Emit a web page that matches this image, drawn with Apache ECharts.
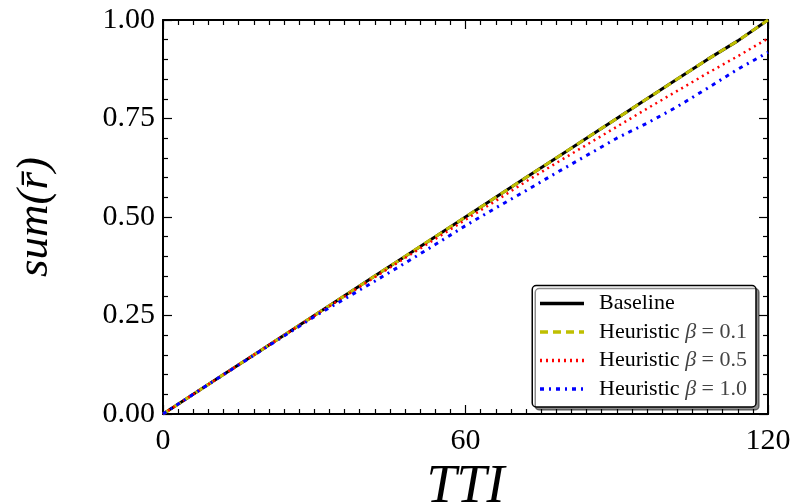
<!DOCTYPE html>
<html>
<head>
<meta charset="utf-8">
<script src="https://cdn.jsdelivr.net/npm/echarts@6/dist/echarts.min.js"></script>
<style>html,body{margin:0;padding:0;background:#fff}#c{width:791px;height:502px}</style>
</head>
<body>
<div id="c"></div>
<script>
const tti = [0,6,12,18,24,30,36,42,48,54,60,66,72,78,84,90,96,102,108,114,120];
const baseline = [0,0.05,0.1,0.15,0.2,0.25,0.3,0.35,0.4,0.45,0.5,0.55,0.6,0.65,0.7,0.75,0.8,0.85,0.9,0.947,1.0];
const heurB01 = [0,0.05,0.1,0.15,0.2,0.25,0.3,0.35,0.4,0.45,0.5,0.55,0.6,0.65,0.7,0.75,0.8,0.85,0.9,0.947,1.0];
const heurB05 = [0,0.05,0.1,0.15,0.2,0.249,0.298,0.347,0.396,0.444,0.493,0.541,0.59,0.637,0.683,0.729,0.775,0.82,0.865,0.908,0.953];
const heurB10 = [0,0.05,0.1,0.149,0.198,0.247,0.292,0.337,0.383,0.43,0.478,0.523,0.567,0.612,0.656,0.70,0.738,0.78,0.827,0.875,0.918];
const seriesNames = ['Baseline','Heuristic β = 0.1','Heuristic β = 0.5','Heuristic β = 1.0'];
const xTicks = [0,60,120];
const yTicks = [0,0.25,0.5,0.75,1.0];

const FONT = '"Liberation Serif", "DejaVu Serif", serif';
const pair = arr => tti.map((t,i)=>[t,arr[i]]);

const chart = echarts.init(document.getElementById('c'), null, {renderer:'canvas'});
const axisLine = {show:true, onZero:false, lineStyle:{color:'#000', width:2}};
const tick = {show:true, inside:true, length:9, lineStyle:{color:'#000', width:1.2}};
const option = {
  animation:false,
  backgroundColor:'#fff',
  grid:{left:163, right:23, top:20, bottom:88, containLabel:false, outerBoundsMode:'none'},
  xAxis:[
    {
      type:'value', min:xTicks[0], max:xTicks[xTicks.length-1], interval:60, position:'bottom',
      axisLine:axisLine, splitLine:{show:false}, axisTick:tick,
      minorTick:{show:true, splitNumber:20, length:5, lineStyle:{color:'#000', width:1.2}},
      axisLabel:{show:true, margin:12, color:'#000', fontFamily:FONT, fontSize:30},
      name:'TTI', nameLocation:'middle', nameGap:44,
      nameTextStyle:{fontFamily:FONT, fontStyle:'italic', fontSize:54, color:'#000'}
    },
    {
      type:'value', min:0, max:120, interval:60, position:'top',
      axisLine:axisLine, splitLine:{show:false}, axisTick:tick,
      minorTick:{show:true, splitNumber:20, length:5, lineStyle:{color:'#000', width:1.2}},
      axisLabel:{show:false}
    }
  ],
  yAxis:[
    {
      type:'value', min:yTicks[0], max:yTicks[yTicks.length-1], interval:0.25, position:'left',
      axisLine:axisLine, splitLine:{show:false}, axisTick:tick,
      minorTick:{show:true, splitNumber:5, length:5, lineStyle:{color:'#000', width:1.2}},
      axisLabel:{show:true, margin:8, color:'#000', fontFamily:FONT, fontSize:30,
        formatter:v=>v.toFixed(2)},
      name:'sum(r\u0304)', nameLocation:'middle', nameGap:105,
      nameTextStyle:{fontFamily:FONT, fontStyle:'italic', fontSize:45, color:'#000'}
    },
    {
      type:'value', min:0, max:1, interval:0.25, position:'right',
      axisLine:axisLine, splitLine:{show:false}, axisTick:tick,
      minorTick:{show:true, splitNumber:5, length:5, lineStyle:{color:'#000', width:1.2}},
      axisLabel:{show:false}
    }
  ],
  legend:{
    orient:'vertical', right:35, bottom:95,
    data:seriesNames,
    itemWidth:44, itemHeight:14, itemGap:6.5,
    padding:[7,9,7,6],
    itemStyle:{opacity:0},
    lineStyle:{width:3.5},
    backgroundColor:'#fff', borderColor:'#000', borderWidth:1.5, borderRadius:4,
    shadowColor:'rgba(0,0,0,0.45)', shadowBlur:0, shadowOffsetX:3, shadowOffsetY:3,
    formatter:function(name){
      const idx = name.indexOf('β');
      if(idx<0) return '{n|'+name+'}';
      return '{n|'+name.slice(0,idx)+'}{m|β}{k|'+name.slice(idx+1)+'}';
    },
    textStyle:{fontFamily:FONT, fontSize:22, color:'#000', lineHeight:20, padding:[0,0,0,10],
      rich:{
        n:{fontFamily:FONT, fontSize:22, color:'#000', lineHeight:20},
        m:{fontFamily:FONT, fontSize:22, color:'#444', fontStyle:'italic', lineHeight:20},
        k:{fontFamily:FONT, fontSize:22, color:'#444', lineHeight:20}
      }}
  },
  series:[
    {name:seriesNames[0], type:'line', data:pair(baseline), symbol:'none', z:2,
      lineStyle:{color:'#000', width:3, type:'solid'}, itemStyle:{color:'#000'}},
    {name:seriesNames[1], type:'line', data:pair(heurB01), symbol:'none', z:3,
      lineStyle:{color:'#bfbf00', width:3, type:[8,5]}, itemStyle:{color:'#bfbf00'}},
    {name:seriesNames[2], type:'line', data:pair(heurB05), symbol:'none', z:4,
      lineStyle:{color:'#ff0000', width:2.5, type:[2,4]}, itemStyle:{color:'#ff0000'}},
    {name:seriesNames[3], type:'line', data:pair(heurB10), symbol:'none', z:5,
      lineStyle:{color:'#0000ff', width:3, type:[4,5,2,5]}, itemStyle:{color:'#0000ff'}}
  ]
};
chart.setOption(option);
</script>
</body>
</html>
